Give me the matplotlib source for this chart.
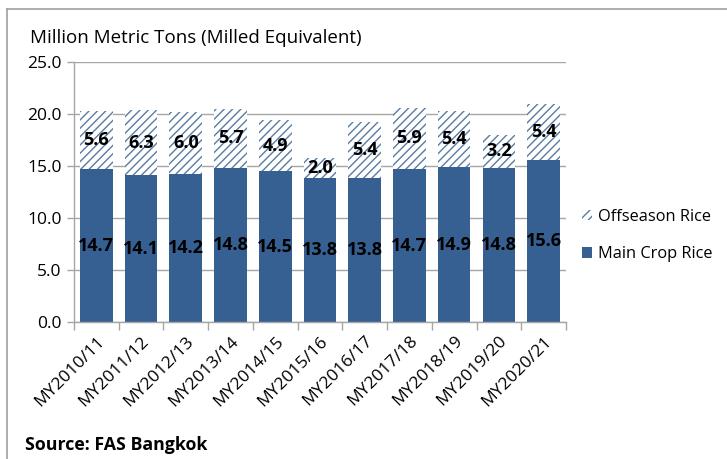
"""Thai rice production by crop type, stacked bars."""

import matplotlib
matplotlib.use("Agg")
import matplotlib.pyplot as plt
import matplotlib.ticker as mticker
from matplotlib.lines import Line2D
from matplotlib.patches import Patch
import numpy as np

plt.rcParams.update({
    "font.family": ["Open Sans", "DejaVu Sans"],
    "font.size": 11,
    "hatch.linewidth": 1.0,
})

years = ["MY2010/11", "MY2011/12", "MY2012/13", "MY2013/14", "MY2014/15",
         "MY2015/16", "MY2016/17", "MY2017/18", "MY2018/19", "MY2019/20",
         "MY2020/21"]
main_crop = [14.7, 14.1, 14.2, 14.8, 14.5, 13.8, 13.8, 14.7, 14.9, 14.8, 15.6]
offseason = [5.6, 6.3, 6.0, 5.7, 4.9, 2.0, 5.4, 5.9, 5.4, 3.2, 5.4]

MAIN_COLOR = "#376092"
HATCH_COLOR = "#5A7BA3"
GRID = "#A6A6A6"

fig = plt.figure(figsize=(7.27, 4.59), dpi=100)
ax = fig.add_axes([0.1018, 0.2985, 0.6767, 0.5664])

x = np.arange(len(years))
ax.bar(x, main_crop, width=0.73, color=MAIN_COLOR, zorder=2)
ax.bar(x, offseason, width=0.73, bottom=main_crop, color="white",
       edgecolor=HATCH_COLOR, hatch="////", linewidth=0, zorder=2)

for i in range(len(years)):
    ax.text(x[i], main_crop[i] / 2, f"{main_crop[i]:.1f}", ha="center",
            va="center", fontsize=13, fontweight="bold", color="black", zorder=3)
    ax.text(x[i], main_crop[i] + offseason[i] / 2, f"{offseason[i]:.1f}",
            ha="center", va="center", fontsize=13, fontweight="bold",
            color="black", zorder=3)

ax.set_xlim(-0.5, len(years) - 0.5)
ax.set_ylim(0, 25)
ax.yaxis.set_major_locator(mticker.MultipleLocator(5))
ax.yaxis.set_major_formatter(mticker.FormatStrFormatter("%.1f"))
ax.grid(axis="y", color=GRID, linewidth=1, zorder=0)

# category ticks sit between bars, labels at bar centres
ax.set_xticks(x)
ax.set_xticklabels(years, rotation=45, ha="right", rotation_mode="anchor",
                   fontsize=12.5)
ax.xaxis.set_minor_locator(mticker.FixedLocator(np.arange(-0.5, len(years), 1)))
ax.tick_params(axis="x", which="major", length=0, pad=8)
ax.tick_params(axis="x", which="minor", length=6, color=GRID, width=1)
ax.tick_params(axis="y", length=5, color=GRID, width=1, labelsize=12.5, pad=4)

for side in ("top", "right"):
    ax.spines[side].set_visible(False)
for side in ("left", "bottom"):
    ax.spines[side].set_color(GRID)
    ax.spines[side].set_linewidth(1)

fig.text(0.041, 0.917, "Million Metric Tons (Milled Equivalent)",
         fontsize=13.5, va="center", ha="left")
fig.text(0.034, 0.03, "Source: FAS Bangkok", fontsize=12.8,
         fontweight="bold", va="center", ha="left")

handles = [
    Patch(facecolor="white", edgecolor=HATCH_COLOR, hatch="////", linewidth=0),
    Patch(facecolor=MAIN_COLOR),
]
fig.legend(handles, ["Offseason Rice", "Main Crop Rice"], loc="center left",
           bbox_to_anchor=(0.78, 0.487), frameon=False, fontsize=11.8,
           handlelength=0.6, handleheight=0.6, handletextpad=0.4,
           labelspacing=1.3)

# outer chart frame along top and left edges
fig.add_artist(Line2D([0.0096, 1.0], [0.980, 0.980], color="#A0A0A0",
                      linewidth=1.2, transform=fig.transFigure))
fig.add_artist(Line2D([0.0096, 0.0096], [0.0, 0.980], color="#A0A0A0",
                      linewidth=1.2, transform=fig.transFigure))

fig.savefig("out.png", dpi=100)
